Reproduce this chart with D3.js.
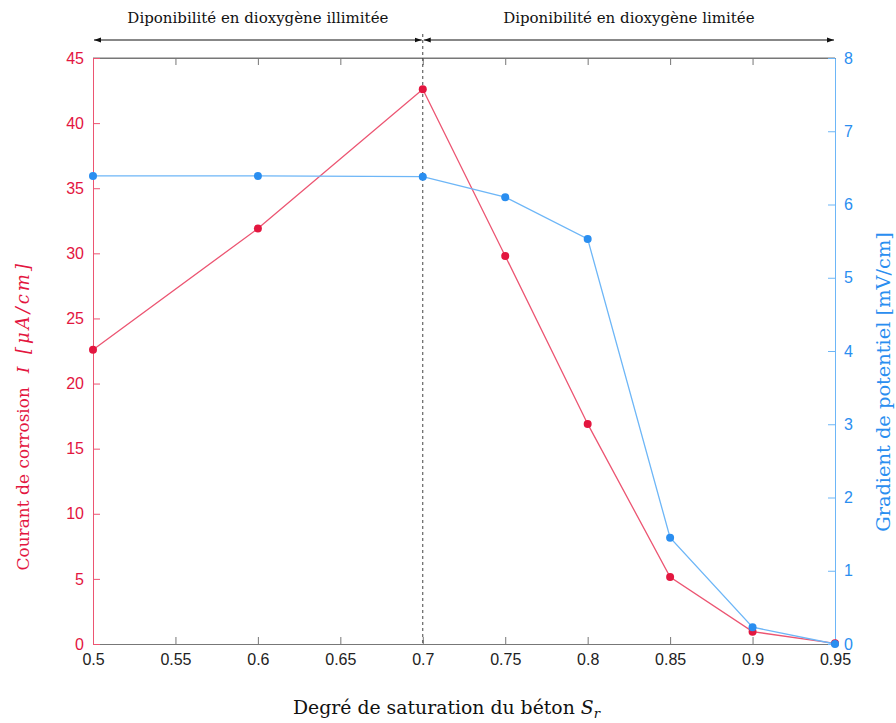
<!DOCTYPE html>
<html><head><meta charset="utf-8">
<script src="https://cdn.jsdelivr.net/npm/d3@7"></script>
<style>body{margin:0;background:#fff}svg{display:block}</style>
</head><body>
<svg id="c" width="896" height="723"></svg>
<script>
const saturation = [0.5, 0.6, 0.7, 0.75, 0.8, 0.85, 0.9, 0.95];
const courant = [22.6, 31.9, 42.6, 29.8, 16.9, 5.15, 0.95, 0.05];
const gradient = [6.39, 6.39, 6.38, 6.10, 5.53, 1.45, 0.23, 0.0];
const xTicks = [0.5, 0.55, 0.6, 0.65, 0.7, 0.75, 0.8, 0.85, 0.9, 0.95];
const yLeftTicks = [0,5,10,15,20,25,30,35,40,45];
const yRightTicks = [0,1,2,3,4,5,6,7,8];
const regionLabels = ["Diponibilité en dioxygène illimitée", "Diponibilité en dioxygène limitée"];
const regionBounds = [[0.5,0.7],[0.7,0.95]];

const RED = "#e3163f", REDL = "#ec5572", BLUE = "#2a8ef0", BLUEL = "#6db6f7", GRAY = "#777";
const svg = d3.select("#c");
const L = 93, R = 835, T = 58, B = 644;
const x = d3.scaleLinear().domain([0.5,0.95]).range([L,R]);
const yl = d3.scaleLinear().domain([0,45]).range([B,T]);
const yr = d3.scaleLinear().domain([0,8]).range([B,T]);
const sans = "'Liberation Sans', Arial, sans-serif";
const serif = "'DejaVu Serif', 'Liberation Serif', serif";

function fit(sel, target){
  const n = sel.node(); const fs = +sel.attr("font-size");
  const len = n.getComputedTextLength();
  sel.attr("font-size", fs*target/len);
  return fs*target/len;
}

// frame top & bottom
svg.append("line").attr("x1",L).attr("x2",R).attr("y1",T).attr("y2",T).attr("stroke",GRAY);
const xb = svg.append("g").attr("transform",`translate(0,${B})`)
  .call(d3.axisBottom(x).tickValues(xTicks).tickSizeInner(-7).tickSizeOuter(0).tickPadding(10).tickFormat(d=>d3.format("")(d)));
xb.select(".domain").attr("stroke",GRAY);
xb.selectAll(".tick line").attr("stroke",GRAY);
xb.selectAll("text").attr("font-family",sans).attr("font-size",16).attr("fill","#222");
const xt = svg.append("g").attr("transform",`translate(0,${T})`)
  .call(d3.axisTop(x).tickValues(xTicks).tickSizeInner(-7).tickSizeOuter(0).tickFormat(""));
xt.select(".domain").attr("stroke",GRAY);
xt.selectAll(".tick line").attr("stroke",GRAY);

// left axis
const ya = svg.append("g").attr("transform",`translate(${L},0)`)
  .call(d3.axisLeft(yl).tickValues(yLeftTicks).tickSizeInner(-7).tickSizeOuter(0).tickPadding(9));
ya.select(".domain").attr("stroke",REDL);
ya.selectAll(".tick line").attr("stroke",REDL);
ya.selectAll("text").attr("font-family",sans).attr("font-size",16).attr("fill",RED);
// right axis
const yb = svg.append("g").attr("transform",`translate(${R},0)`)
  .call(d3.axisRight(yr).tickValues(yRightTicks).tickSizeInner(-7).tickSizeOuter(0).tickPadding(9));
yb.select(".domain").attr("stroke",BLUEL);
yb.selectAll(".tick line").attr("stroke",BLUEL);
yb.selectAll("text").attr("font-family",sans).attr("font-size",16).attr("fill",BLUE);

// dashed divider
svg.append("line").attr("x1",x(0.7)).attr("x2",x(0.7)).attr("y1",34).attr("y2",B)
  .attr("stroke","#444").attr("stroke-dasharray","3,3").attr("stroke-width",1);

// arrows
const defs = svg.append("defs");
defs.append("marker").attr("id","ah").attr("viewBox","0 0 10 10").attr("refX",10).attr("refY",5)
  .attr("markerWidth",7).attr("markerHeight",7).attr("orient","auto-start-reverse")
  .append("path").attr("d","M0,1.5L10,5L0,8.5Z").attr("fill","#111");
regionBounds.forEach((b,i)=>{
  svg.append("line").attr("x1",x(b[0])+1).attr("x2",x(b[1])-1).attr("y1",40).attr("y2",40)
    .attr("stroke","#111").attr("stroke-width",1)
    .attr("marker-start","url(#ah)").attr("marker-end","url(#ah)");
  svg.append("text").attr("x",(x(b[0])+x(b[1]))/2).attr("y",23).attr("text-anchor","middle")
    .attr("font-family",serif).attr("font-size",15).attr("fill","#111").text(regionLabels[i]);
});

// series
const lineL = d3.line().x((d,i)=>x(saturation[i])).y(d=>yl(d));
const lineR = d3.line().x((d,i)=>x(saturation[i])).y(d=>yr(d));
svg.append("path").datum(courant).attr("d",lineL).attr("fill","none").attr("stroke",REDL).attr("stroke-width",1.3);
svg.append("path").datum(gradient).attr("d",lineR).attr("fill","none").attr("stroke",BLUEL).attr("stroke-width",1.3);
svg.selectAll(".pr").data(courant).enter().append("circle").attr("cx",(d,i)=>x(saturation[i])).attr("cy",d=>yl(d)).attr("r",4).attr("fill",RED);
svg.selectAll(".pb").data(gradient).enter().append("circle").attr("cx",(d,i)=>x(saturation[i])).attr("cy",d=>yr(d)).attr("r",4).attr("fill",BLUE);

// x axis title
const xl = svg.append("text").attr("x",293).attr("y",714)
  .attr("font-family",serif).attr("font-size",16).attr("fill","#111").text("Degré de saturation du béton ");
const xfs = fit(xl, 282);
xl.append("tspan").attr("font-style","italic").text("S");
xl.append("tspan").attr("font-style","italic").attr("font-size",xfs*0.7).attr("dy",4).text("r");

// left title (rotated)
const gl = svg.append("g").attr("transform","translate(29,0) rotate(-90)");
gl.append("text").attr("x",-387).attr("y",0).attr("text-anchor","end").attr("font-family",serif).attr("font-size",17)
  .attr("fill",RED).text("Courant de corrosion");
gl.append("text").attr("x",-370).attr("y",0).attr("text-anchor","middle").attr("font-family",serif).attr("font-size",17)
  .attr("font-style","italic").attr("fill",RED).text("I");
gl.append("text").attr("x",-354).attr("y",0).attr("font-family",serif).attr("font-size",18)
  .attr("font-style","italic").attr("fill",RED).attr("letter-spacing",3).text("[μA/cm]");

// right title
const rt = svg.append("text").attr("transform","translate(890,382) rotate(-90)").attr("text-anchor","middle")
  .attr("font-family",serif).attr("font-size",16).attr("fill",BLUE).text("Gradient de potentiel [mV/cm]");
fit(rt, 300);
</script>
</body></html>
